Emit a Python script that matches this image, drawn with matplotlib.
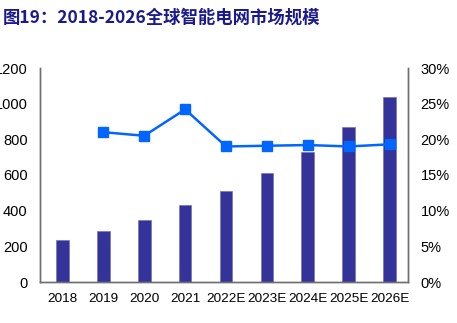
import matplotlib.pyplot as plt
import numpy as np

years = ['2018', '2019', '2020', '2021', '2022E', '2023E', '2024E', '2025E', '2026E']
market = [235, 286, 346, 430, 510, 610, 729, 868, 1036]
growth_years = years[1:]
growth = [21.0, 20.5, 24.2, 19.0, 19.1, 19.2, 19.0, 19.3]

plt.rcParams['font.family'] = ['Liberation Sans', 'DejaVu Sans']

fig = plt.figure(figsize=(4.57, 3.23), dpi=100)
ax = fig.add_axes([40 / 457, 1 - 282 / 323, 368 / 457, 214 / 323])
ax2 = ax.twinx()

x = np.arange(len(years))
ax.bar(x, market, width=0.31, color='#333399', edgecolor='#6a6ab8', linewidth=0.4, zorder=2)
ax.set_ylim(0, 1200)
ax.set_yticks(range(0, 1201, 200))
ax.set_xlim(-0.55, len(years) - 0.55)
ax.set_xticks(x)
ax.set_xticklabels(years, fontsize=9.7)
# left labels sit close to the figure edge, as in the source image
ax.tick_params(axis='y', length=0, pad=9, labelsize=10.5)
ax.tick_params(axis='x', length=0, pad=8)

gx = [years.index(y) for y in growth_years]
ax2.plot(gx, growth, color='#0066ff', linewidth=1.8, marker='s', markersize=6.5, zorder=3)
ax2.set_ylim(0, 30)
ax2.set_yticks(range(0, 31, 5))
ax2.set_yticklabels([f'{v}%' for v in range(0, 31, 5)])
ax2.tick_params(axis='y', length=0, pad=9, labelsize=10.5)

for a in (ax, ax2):
    a.spines['top'].set_visible(False)
    for s in ('left', 'right', 'bottom'):
        a.spines[s].set_color('#707070')
        a.spines[s].set_linewidth(1.0)

fig.text(3 / 457, 1 - 18 / 323, '图19：2018-2026全球智能电网市场规模',
         family=['Noto Sans CJK SC', 'DejaVu Sans'], fontweight='bold',
         fontsize=12.5, color='#1a1a8c', va='center', ha='left')

plt.savefig('out.png', dpi=100)
